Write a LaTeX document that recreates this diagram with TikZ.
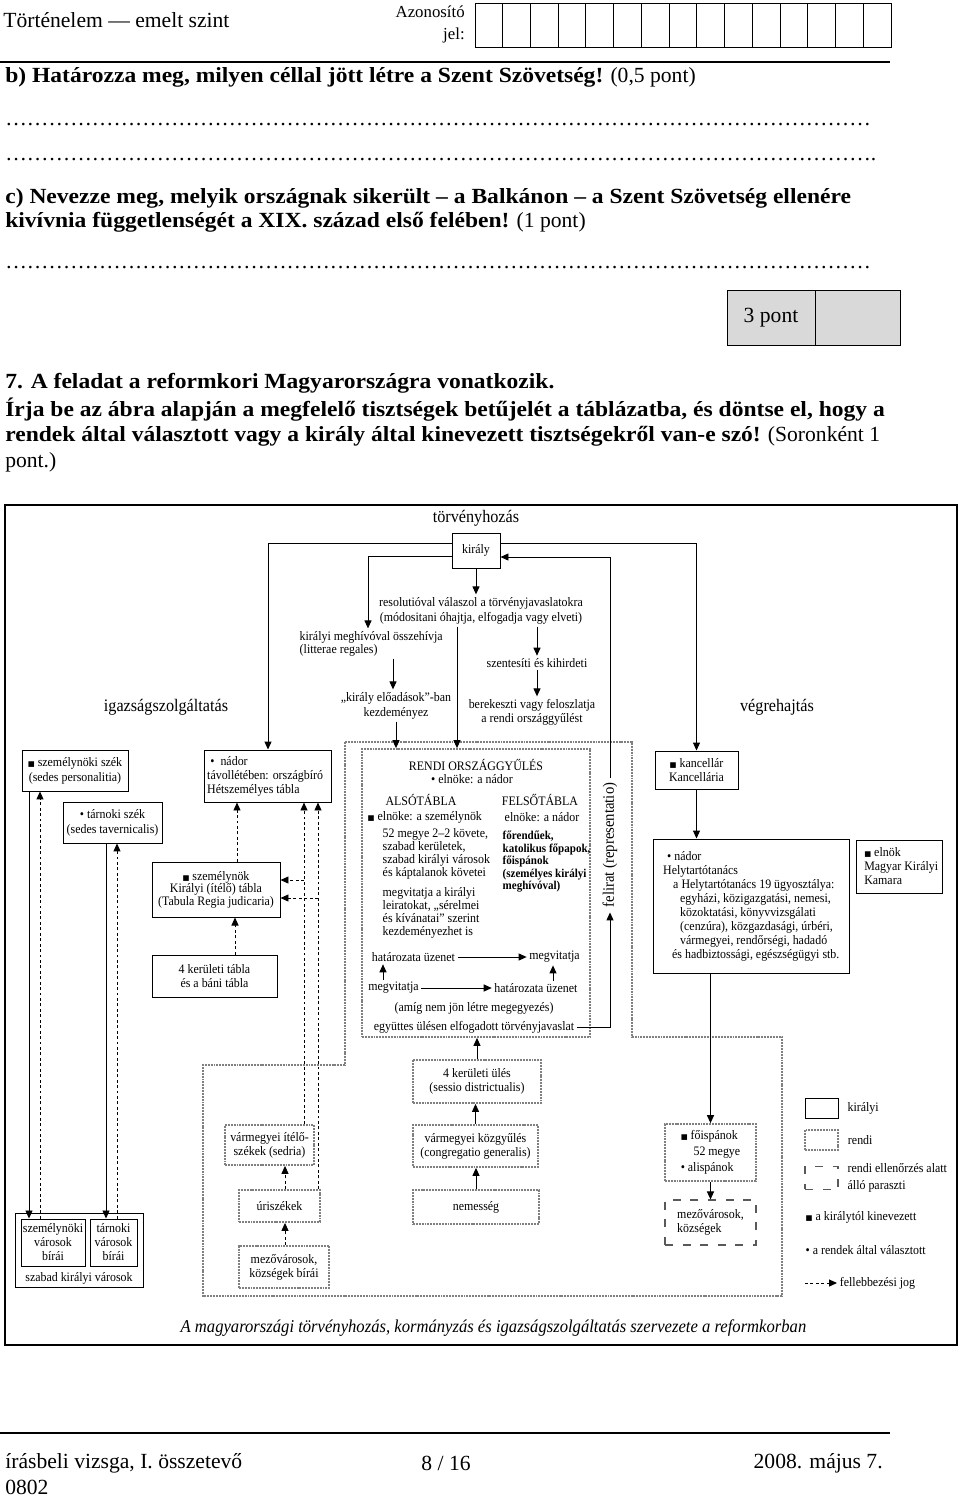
\documentclass[tikz,border=0pt]{standalone}
\usepackage{fontspec}
\setmainfont{Liberation Serif}
\newfontfamily\vastagbetu[FakeStretch=1.09]{Liberation Serif}
\newfontfamily\abrabetu[FakeStretch=0.92]{Liberation Serif}
\newfontfamily\jelbetu{DejaVu Sans}
\usetikzlibrary{arrows.meta}
\usetikzlibrary{positioning}
\usetikzlibrary{calc}

\newcommand{\kir}{{\jelbetu\fontsize{4.6}{5}\selectfont ■}}
\newcommand{\abrafont}{\abrabetu\fontsize{8.1}{8.75}\selectfont\lineskiplimit=-5pt}
\newcommand{\sorkoz}[1]{\fontsize{8.1}{#1}\selectfont\lineskiplimit=-5pt}
\newcommand{\lapfont}{\fontsize{13.5}{16}\selectfont}
\newcommand{\vastag}[1]{{\vastagbetu\bfseries #1}}
\newcommand{\pontsor}[1]{\makebox[#1][l]{\xleaders\hbox{…}\hfill}}

\tikzset{
  lap/.style={font=\lapfont, inner sep=0pt, anchor=west},
  szoveg/.style={font=\abrafont, inner sep=1.5pt, align=center},
  kbox/.style={szoveg, draw, line width=0.6pt},
  rvonal/.style={draw=black!50, line width=1.1pt, dash pattern=on 1.2pt off 0.6pt},
  rbox/.style={szoveg, rvonal},
  pbox/.style={szoveg, draw=black!65, line width=0.7pt, dash pattern=on 5pt off 6pt},
  nyil/.style={-{Triangle[length=5pt,width=4.4pt]}, line width=0.6pt},
  fellebb/.style={nyil, dash pattern=on 1.8pt off 1.6pt},
  nagy/.style={szoveg, font={\abrabetu\fontsize{11}{13}\selectfont}}
}

\begin{document}
\begin{tikzpicture}[x=0.625pt, y=-0.625pt]
  \useasboundingbox (0,0) rectangle (960,1496);

  % fejlec
  \node[lap] (fej) at (3,20) {Történelem — emelt szint};
  \node[lap, anchor=east, align=right, font={\fontsize{10.5}{13.75}\selectfont}] (azon) at (465,24) {Azonosító\\jel:};
  \draw[line width=0.6pt] (475,3) rectangle (891,47);
  \foreach \i in {1,...,14}{%
    \draw[line width=0.6pt] (475+\i*27.73,3) -- (475+\i*27.73,47);
  }
  \draw[line width=1.6pt] (0,62) -- (890,62);

  % kerdesek
  \node[lap] (bker) at (5,77) {\vastag{b) Határozza meg, milyen céllal jött létre a Szent Szövetség!} (0,5 pont)};
  \node[lap] (sor1) at (5,125) {\pontsor{541pt}};
  \node[lap] (sor2) at (5,160) {\pontsor{541pt}.};
  \node[lap] (cker1) at (5,198) {\vastag{c) Nevezze meg, melyik országnak sikerült – a Balkánon – a Szent Szövetség ellenére}};
  \node[lap] (cker2) at (5,222) {\vastag{kivívnia függetlenségét a XIX. század első felében!} (1 pont)};
  \node[lap] (sor3) at (5,268) {\pontsor{541pt}};

  \node[draw, fill=black!15, font=\lapfont, inner sep=0pt, minimum width=55pt, minimum height=34.4pt] (pont) at (771,317.5) {3 pont};
  \node[draw, fill=black!15, inner sep=0pt, minimum width=53.1pt, minimum height=34.4pt, right=0pt of pont] (pontur) {};

  \node[lap] (hetes) at (5,383) {\vastag{7. A feladat a reformkori Magyarországra vonatkozik.}};
  \node[lap] (utas1) at (5,410) {\vastag{Írja be az ábra alapján a megfelelő tisztségek betűjelét a táblázatba, és döntse el, hogy a}};
  \node[lap] (utas2) at (5,436) {\vastag{rendek által választott vagy a király által kinevezett tisztségekről van-e szó!} (Soronként 1};
  \node[lap] (utas3) at (5,462) {pont.)};

  % abra keret
  \draw[line width=1.4pt] (5,505) rectangle (957,1345);

  % rendi terulet
  \draw[rvonal] (345,742) -- (632,742) -- (632,1037) -- (782,1037) -- (782,1296)
    -- (203,1296) -- (203,1065) -- (345,1065) -- cycle;

  % torvenyhozas
  \node[nagy] (torv) at (476,518) {törvényhozás};
  \node[kbox, minimum width=30pt, minimum height=21.9pt] (kiraly) at (476,550.5) {király};
  \node[szoveg, font={\abrafont\sorkoz{9.4}}] (resol) at (481,610.5) {resolutióval válaszol a törvényjavaslatokra\\(módositani óhajtja, elfogadja vagy elveti)};
  \node[szoveg, font={\abrafont\sorkoz{8.1}}, align=left, anchor=west] (meghivo) at (297,643.5) {királyi meghívóval összehívja\\(litterae regales)};
  \node[szoveg, font={\abrafont\sorkoz{9.4}}] (eload) at (396,705.5) {„király előadások”-ban\\kezdeményez};
  \node[szoveg] (szent) at (537,663) {szentesíti és kihirdeti};
  \node[szoveg] (berek) at (532,712) {berekeszti vagy feloszlatja\\a rendi országgyűlést};

  \node[nagy] (igazs) at (166,707) {igazságszolgáltatás};
  \node[nagy] (vegreh) at (777,707) {végrehajtás};

  % orszaggyules
  \node[rbox, minimum width=142.5pt, minimum height=180pt] (orsz) at (476,893) {};
  \node[szoveg] (ocim) at (476,765) {RENDI ORSZÁGGYŰLÉS};
  \node[szoveg] (oelnok) at (472,779) {• elnöke: a nádor};
  \node[szoveg] (also) at (421,800) {ALSÓTÁBLA};
  \node[szoveg] (felso) at (540,800) {FELSŐTÁBLA};
  \node[szoveg, anchor=west] (aelnok) at (365,817) {\kir\ elnöke: a személynök};
  \node[szoveg, anchor=west] (felnok) at (502,817) {elnöke: a nádor};
  \node[szoveg, anchor=west, align=left, font={\abrafont\sorkoz{8.1}}] (akovet) at (380,853.5) {52 megye 2–2 követe,\\szabad kerületek,\\szabad királyi városok\\és káptalanok követei};
  \node[szoveg, anchor=west, align=left, font={\abrafont\sorkoz{8.1}}] (avita) at (380,912.5) {megvitatja a királyi\\leiratokat, „sérelmei\\és kívánatai” szerint\\kezdeményezhet is};
  \node[szoveg, anchor=west, align=left, font={\abrabetu\bfseries\fontsize{7.5}{7.8}\selectfont\lineskiplimit=-5pt}] (ftag) at (500,862) {főrendűek,\\katolikus főpapok,\\főispánok\\(személyes királyi\\meghívóval)};
  \node[szoveg] (hat1) at (413.5,957) {határozata üzenet};
  \node[szoveg] (megv1) at (554.5,957) {megvitatja};
  \node[szoveg] (megv2) at (393.5,988) {megvitatja};
  \node[szoveg] (hat2) at (536,988) {határozata üzenet};
  \node[szoveg] (amig) at (474,1008) {(amíg nem jön létre megegyezés)};
  \node[szoveg] (egyutt) at (474,1027) {együttes ülésen elfogadott törvényjavaslat};
  \node[szoveg, rotate=90, inner sep=3pt, font={\abrabetu\fontsize{10}{12}\selectfont}] (felir) at (610,845) {felirat (representatio)};

  % igazsagszolgaltatas
  \node[kbox, minimum width=66.25pt, minimum height=25.6pt, font={\abrafont\sorkoz{9.4}}] (szemszek) at (75,770.5) {\kir\ személynöki szék\\(sedes personalitia)};
  \node[kbox, minimum width=61.9pt, minimum height=25.6pt, font={\abrafont\sorkoz{9.4}}] (tarnszek) at (112.5,822.5) {• tárnoki szék\\(sedes tavernicalis)};
  \node[kbox, text width=76pt, inner xsep=1.4pt, minimum height=32.5pt, align=flush left] (nador) at (268,776) {\hspace*{2pt}•\ \ nádor\\távollétében: országbíró\\Hétszemélyes tábla};
  \node[kbox, minimum width=80pt, minimum height=34.4pt, font={\abrafont\sorkoz{7.8}}] (szemely) at (216,889.5) {\kir\ személynök\\Királyi (ítélő) tábla\\(Tabula Regia judicaria)};
  \node[kbox, minimum width=78.1pt, minimum height=26.25pt] (kertabla) at (214.5,976) {4 kerületi tábla\\és a báni tábla};

  \node[kbox, minimum width=80pt, minimum height=46.25pt] (szkv) at (79,1250) {};
  \node[szoveg, above=0pt of szkv.south] (szkvnev) {szabad királyi városok};
  \node[kbox, minimum width=40pt, minimum height=29.4pt, inner sep=0.8pt] (szvb) at (53,1242.5) {személynöki\\városok\\bírái};
  \node[kbox, minimum width=29.4pt, minimum height=29.4pt, inner sep=0.8pt] (tvb) at (113.5,1242.5) {tárnoki\\városok\\bírái};

  % megye
  \node[rbox, minimum width=80pt, minimum height=26.9pt] (kerules) at (477,1081.5) {4 kerületi ülés\\(sessio districtualis)};
  \node[rbox, minimum width=78.1pt, minimum height=26.25pt] (kozgy) at (475.5,1146) {vármegyei közgyűlés\\(congregatio generalis)};
  \node[rbox, minimum width=78.75pt, minimum height=21.25pt] (nemes) at (476,1207) {nemesség};
  \node[rbox, minimum width=55.6pt, minimum height=25pt] (sedria) at (269.5,1145) {vármegyei ítélő-\\székek (sedria)};
  \node[rbox, minimum width=50.6pt, minimum height=20pt] (uri) at (279.5,1206) {úriszékek};
  \node[rbox, minimum width=56.25pt, minimum height=26.25pt] (mezob) at (284,1267) {mezővárosok,\\községek bírái};

  % vegrehajtas
  \node[kbox, minimum width=51.9pt, minimum height=23.75pt] (kanc) at (696.5,770) {\kir\ kancellár\\Kancellária};
  \node[kbox, text width=116pt, inner xsep=3.25pt, minimum height=83.75pt, align=flush left] (helyt) at (751,906) {\hspace*{5.6pt}• nádor\\\hspace*{3.1pt}Helytartótanács\\\hspace*{9.4pt}a Helytartótanács 19 ügyosztálya:\\\hspace*{13.75pt}egyházi, közigazgatási, nemesi,\\\hspace*{13.75pt}közoktatási, könyvvizsgálati\\\hspace*{13.75pt}(cenzúra), közgazdasági, úrbéri,\\\hspace*{13.75pt}vármegyei, rendőrségi, hadadó\\\hspace*{8.75pt}és hadbiztossági, egészségügyi stb.};
  \node[kbox, text width=50pt, inner xsep=2pt, minimum height=33.1pt, align=flush left] (kamara) at (899.5,866.5) {\hspace*{3pt}\kir\ elnök\\\hspace*{3pt}Magyar Királyi\\\hspace*{3pt}Kamara};
  \node[rbox, minimum width=56.9pt, minimum height=35.6pt, align=left, font={\abrafont\sorkoz{10}}] (foisp) at (710.5,1152.5) {\kir\ főispánok\\\hspace*{8pt}52 megye\\• alispánok};
  \node[pbox, minimum width=56.9pt, minimum height=28.1pt, align=left] (parasz) at (710.5,1222.5) {mezővárosok,\\községek};

  % kapcsolatok
  \draw[nyil] (kiraly.west |- 0,543) -| (nador.north);
  \draw[nyil] (kiraly.east |- 0,543) -| (kanc.north);
  \draw[nyil] (kiraly.west |- 0,556) -| (meghivo.north -| 368,0);
  \draw[nyil] (kiraly.south) -- (kiraly.south |- resol.north);
  \draw[nyil] (meghivo.south -| 393,0) -- (eload.north -| 393,0);
  \draw[nyil] (eload.south) -- (eload.south |- orsz.north);
  \draw[nyil] (resol.south -| 457,0) -- (orsz.north -| 457,0);
  \draw[nyil] (resol.south -| szent) -- (szent.north);
  \draw[nyil] (szent.south) -- (szent.south |- berek.north);

  \draw[nyil] (hat1) -- (megv1);
  \draw[nyil] (megv2) -- (hat2);
  \draw[nyil] (megv2.north -| 383,0) -- (hat1.south -| 383,0);
  \draw[nyil] (hat2.north -| 553,0) -- (megv1.south -| 553,0);
  \draw[nyil] (egyutt.east) -| (felir.west);
  \draw[nyil] (felir.east) |- (kiraly.east |- 0,557);

  \draw[nyil] (szemszek.south -| 29,0) -- (szvb.north -| 29,0);
  \draw[fellebb] (szvb.north -| 40,0) -- (szemszek.south -| 40,0);
  \draw[nyil] (tarnszek.south -| 106,0) -- (tvb.north -| 106,0);
  \draw[fellebb] (tvb.north -| 117,0) -- (tarnszek.south -| 117,0);
  \draw[fellebb] (szemely.north -| 237,0) -- (nador.south -| 237,0);
  \draw[fellebb] (kertabla.north -| 235,0) -- (szemely.south -| 235,0);

  \draw[nyil] (kerules.north) -- (kerules.north |- orsz.south);
  \draw[nyil] (kozgy.north) -- (kozgy.north |- kerules.south);
  \draw[nyil] (nemes.north) -- (nemes.north |- kozgy.south);
  \draw[fellebb] (uri.north -| 285,0) -- (sedria.south -| 285,0);
  \draw[fellebb] (mezob.north -| 285,0) -- (uri.south -| 285,0);

  \draw[fellebb] (sedria.north -| 304,0) -- (nador.south -| 304,0);
  \draw[fellebb] (uri.north -| 318,0) -- (nador.south -| 318,0);
  \coordinate (ag1) at (304,880);
  \coordinate (ag2) at (318,898);
  \draw[fellebb] (ag1) -- (szemely.east |- ag1);
  \draw[fellebb] (ag2) -- (szemely.east |- ag2);

  \draw[nyil] (kanc.south) -- (kanc.south |- helyt.north);
  \draw[nyil] (helyt.south -| foisp) -- (foisp.north);
  \draw[nyil] (foisp.south) -- (parasz.north);

  % jelmagyarazat
  \node[kbox, minimum width=20.6pt, minimum height=12.5pt] (lkir) at (821.5,1108) {};
  \node[szoveg, right=4pt of lkir] (lkirt) {királyi};
  \node[rbox, minimum width=20.6pt, minimum height=12.5pt] (lren) at (821.5,1140) {};
  \node[szoveg, right=4pt of lren] (lrent) {rendi};
  \node[pbox, minimum width=20.6pt, minimum height=14pt] (lpar) at (821.5,1178) {};
  \node[szoveg, right=4pt of lpar, align=left, font={\abrafont\sorkoz{11}}] (lpart) {rendi ellenőrzés alatt\\álló paraszti};
  \node[szoveg, anchor=west] (lkin) at (803,1217) {\kir\ a királytól kinevezett};
  \node[szoveg, anchor=west] (lval) at (803,1250) {• a rendek által választott};
  \coordinate (lfel) at (805,1283);
  \draw[fellebb] (lfel) -- ++(32,0) node[szoveg, right] (lfelt) {fellebbezési jog};

  \node[szoveg, font={\abrabetu\itshape\fontsize{11.3}{13}\selectfont}] (cim) at (493.5,1328) {A magyarországi törvényhozás, kormányzás és igazságszolgáltatás szervezete a reformkorban};

  % lablec
  \draw[line width=1.6pt] (0,1433) -- (890,1433);
  \node[lap] (lab1) at (5,1463) {írásbeli vizsga, I. összetevő};
  \node[lap, anchor=center] (lab2) at (446,1463) {8 / 16};
  \node[lap, anchor=east] (lab3) at (883,1463) {2008. május 7.};
  \node[lap] (lab4) at (5,1487) {0802};
\end{tikzpicture}
\end{document}
